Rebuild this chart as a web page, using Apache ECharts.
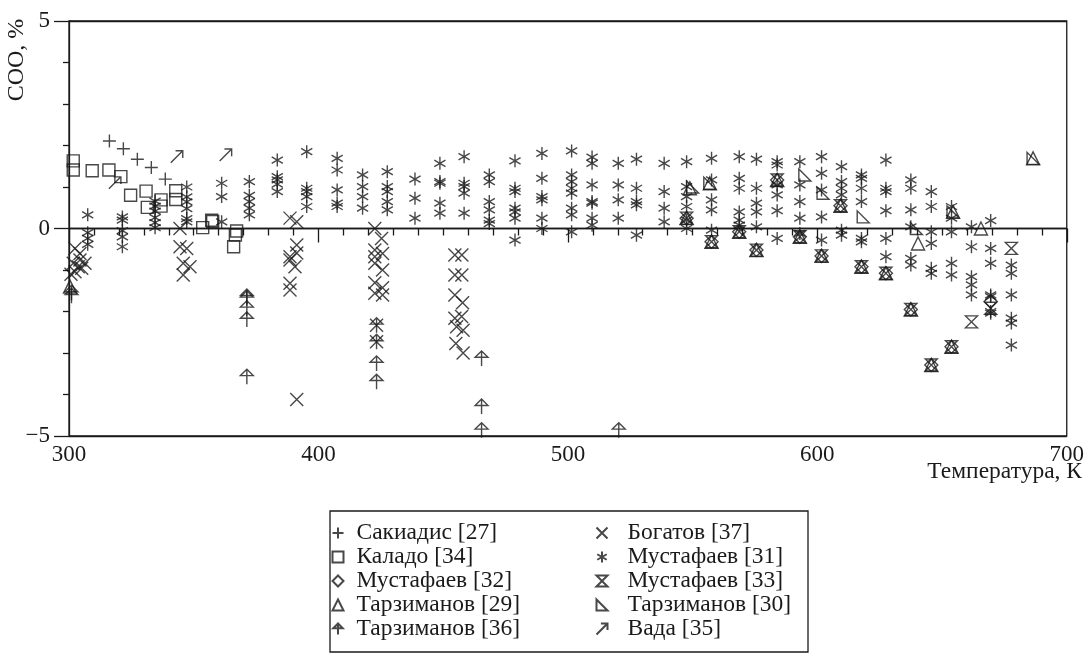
<!DOCTYPE html>
<html>
<head>
<meta charset="utf-8">
<script src="https://cdn.jsdelivr.net/npm/echarts@6/dist/echarts.min.js"></script>
<style>
  html, body { margin: 0; padding: 0; background: #fff; }
  #chart { width: 1087px; height: 663px; }
</style>
</head>
<body>
<div id="chart"></div>
<script>
// --- data (temperature K, deviation %) ---
const sakiadis = [[316.2, 2.11], [321.8, 1.92], [327.4, 1.67], [333, 1.47], [338.6, 1.19]]
const kalado = [
  [301.7, 1.63], [301.7, 1.41], [309.3, 1.39], [316, 1.41], [320.8, 1.25], [324.7, 0.8],
  [330.9, 0.9], [331.4, 0.51], [336.9, 0.69], [336.9, 0.54], [342.8, 0.91], [342.8, 0.7],
  [353.6, 0.02], [357.2, 0.2], [357.6, 0.17], [367.2, -0.06], [366.7, -0.16], [366, -0.44],
]
// points where [32], [33] and [29] coincide
const starPts = [
  [547.6, 0.25], [557.6, -0.32], [568.7, -0.08], [575.6, -0.52], [583.9, 1.17], [593, -0.2],
  [601.7, -0.66], [609.3, 0.55], [617.7, -0.92], [627.5, -1.08], [637.5, -1.95], [645.7, -3.29],
  [653.8, -2.85],
]
const must32 = starPts.concat([[669.5, -1.76]])
const must33 = starPts.concat([[661.8, -2.25], [669.5, -1.92], [677.8, -0.48]])
const tarz29 = starPts.concat([
  [300.4, -1.4], [548.9, 0.97], [556.9, 1.09], [640.4, -0.36], [654.4, 0.4], [665.6, 0.0], [686.5, 1.69],
])
const tarz30 = [
  [550, 1.0], [556.9, 1.09], [595, 1.29], [602.3, 0.85], [618.4, 0.28], [639.7, 0.0], [654.4, 0.4], [686.5, 1.69],
]
const tarz36 = [
  [301, -1.55], [301, -1.62], [371.3, -1.64], [371.3, -1.68], [371.3, -1.92], [371.3, -2.19], [371.3, -3.57],
  [423.3, -2.33], [423.3, -2.73], [423.3, -3.25], [423.3, -3.69], [465.4, -3.13], [465.4, -4.29],
  [465.4, -4.86], [520.4, -4.86],
]
const bogatov = [
  [302.4, -0.48], [304.4, -0.76], [301.7, -0.84], [303.7, -0.92], [305.1, -0.96], [302.4, -1.04],
  [304.4, -0.6], [306.4, -0.84], [300.8, -1.1],
  [344.5, 0], [344.5, -0.44], [347.2, -0.48], [345.8, -0.84], [348.5, -0.92], [345.8, -1.12],
  [388.6, 0.25], [391.3, 0.16], [391.3, -0.4], [391.3, -0.59], [388.6, -0.68], [388.6, -0.76],
  [390.6, -0.92], [388.6, -1.32], [388.6, -1.48], [391.3, -4.12],
  [422.6, 0], [425.3, -0.24], [422.6, -0.52], [425.7, -0.6], [422.6, -0.68], [422.6, -0.84],
  [425.7, -1.0], [422.6, -1.31], [425.7, -1.43], [422.6, -1.56], [425.7, -1.6], [423.3, -2.33], [423.3, -2.73],
  [454.7, -0.64], [457.5, -0.64], [454.7, -1.12], [457.5, -1.12], [454.7, -1.6], [457.8, -1.79],
  [454.7, -2.16], [457.4, -2.12], [455.4, -2.37], [458, -2.45], [455.1, -2.77], [458, -3.0],
]
// Мустафаев [31]: temperatures and the values read at each
const must31T = [
  307.5, 321.4, 334.5, 347.2, 361.2, 372.3, 383.5, 395.3, 407.5, 417.7, 427.6, 438.7, 448.7, 458.4,
  468.5, 478.8, 489.6, 501.5, 509.7, 520.2, 527.5, 538.6, 547.6, 557.6, 568.7, 575.6, 583.9, 593,
  601.7, 609.7, 617.7, 627.5, 637.5, 645.7, 653.8, 661.8, 669.5, 677.8,
]
const must31V = [
  [0.33, -0.1, -0.24, -0.38],
  [0.28, 0.2, -0.05, -0.2, -0.44],
  [0.66, 0.54, 0.42, 0.26, 0.14, 0.02],
  [1.0, 0.76, 0.64, 0.48, 0.24, 0.16],
  [1.09, 0.77, 0.16],
  [1.13, 0.8, 0.65, 0.49, 0.33],
  [1.65, 1.25, 1.17, 1.07, 0.89],
  [1.85, 0.97, 0.89, 0.77, 0.53],
  [1.69, 1.41, 0.93, 0.61, 0.53],
  [1.29, 1.01, 0.77, 0.49],
  [1.37, 1.01, 0.89, 0.65, 0.45],
  [1.19, 0.73, 0.25],
  [1.57, 1.13, 1.09, 0.61, 0.37],
  [1.73, 1.09, 1.01, 0.85, 0.37],
  [1.29, 1.13, 0.65, 0.45, 0.2, 0.12],
  [1.63, 0.97, 0.89, 0.49, 0.4, 0.25, -0.28],
  [1.81, 1.21, 0.77, 0.69, 0.25, 0.0],
  [1.87, 1.29, 1.13, 0.97, 0.85, 0.49, 0.33, -0.08],
  [1.72, 1.57, 1.05, 0.65, 0.61, 0.25, 0.08],
  [1.57, 1.05, 0.69, 0.25],
  [1.67, 0.97, 0.65, 0.57, -0.16],
  [1.57, 0.89, 0.49, 0.16],
  [1.61, 1.01, 0.77, 0.53, 0.2, 0.0],
  [1.69, 1.17, 0.69, 0.45, -0.04],
  [1.73, 1.21, 0.97, 0.4, 0.2, 0.08],
  [1.67, 0.97, 0.61, 0.4, 0.04],
  [1.61, 1.53, 1.05, 0.81, 0.43, -0.24],
  [1.61, 1.05, 0.65, 0.25, -0.12],
  [1.73, 1.33, 0.93, 0.28, -0.28],
  [1.49, 1.13, 0.97, 0.81, -0.04, -0.16],
  [1.29, 1.21, 0.97, 0.65, -0.24, -0.32],
  [1.65, 0.97, 0.89, 0.43, -0.24, -0.68],
  [1.17, 0.97, 0.45, 0.04, -0.72, -0.88],
  [0.89, 0.53, -0.08, -0.36, -0.96, -1.08],
  [0.53, 0.25, -0.08, -0.84, -1.12],
  [0.04, -0.44, -1.16, -1.36, -1.6],
  [0.19, -0.48, -0.84, -1.6, -1.64, -2.0, -2.04],
  [-0.88, -1.08, -1.6, -2.16, -2.28, -2.81],
]
const vada = [[318.4, 1.1], [343.2, 1.73], [362.8, 1.77]]

const must31 = []
must31T.forEach((t, i) => must31V[i].forEach((v) => must31.push([t, v])))

const FONT = '"Liberation Serif", "DejaVu Serif", serif'
const INK = '#1a1a1a'

const SYM = {
  plus: 'path://M5 0 L5 10 M0 5 L10 5',
  cross: 'path://M0 0 L10 10 M10 0 L0 10',
  star: 'path://M5 0 L5 10 M0.7 2.5 L9.3 7.5 M9.3 2.5 L0.7 7.5',
  hourglass: 'path://M0 0 L10 0 L0 10 L10 10 Z',
  rightTri: 'path://M0 0 L0 10 L10 10 Z',
  upArrow: 'path://M0 6 L6 0 L12 6 Z M6 0 L6 14',
  neArrow: 'path://M0 10 L10 0 M4 0 L10 0 L10 6',
}

function scatter(name, data, symbol, size) {
  return {
    name,
    type: 'scatter',
    data,
    symbol,
    symbolSize: size || 13,
    symbolKeepAspect: true,
    itemStyle: { color: 'none', borderColor: INK, borderWidth: 1.4 },
    emphasis: { disabled: true },
  }
}

const chart = echarts.init(document.getElementById('chart'))

const legendBase = {
  orient: 'vertical',
  top: 516,
  height: 130,
  itemWidth: 11,
  itemHeight: 11,
  itemGap: 0,
  selectedMode: false,
  textStyle: { fontFamily: FONT, fontSize: 23.5, color: INK },
}

chart.setOption({
  animation: false,
  grid: { left: 69, right: 20, top: 21, bottom: 227, show: true, borderColor: INK, borderWidth: 1.3 },
  xAxis: {
    type: 'value',
    min: 300,
    max: 700,
    interval: 100,
    axisLine: { lineStyle: { color: INK, width: 1.3 } },
    axisTick: { show: true, inside: false, length: 14, lineStyle: { color: INK, width: 1.3 } },
    minorTick: { show: true, splitNumber: 10, length: 7, lineStyle: { color: INK, width: 1.3 } },
    splitLine: { show: false },
    axisLabel: { margin: 7, fontFamily: FONT, fontSize: 23, color: INK },
  },
  yAxis: {
    type: 'value',
    min: -5,
    max: 5,
    interval: 5,
    axisLine: { lineStyle: { color: INK, width: 1.3 } },
    axisTick: { show: true, inside: false, length: 15, lineStyle: { color: INK, width: 1.3 } },
    minorTick: { show: true, splitNumber: 5, length: 6, lineStyle: { color: INK, width: 1.3 } },
    splitLine: { show: true, lineStyle: { color: INK, width: 1.3 } },
    axisLabel: {
      margin: 19,
      fontFamily: FONT,
      fontSize: 23,
      color: INK,
      formatter: (v) => (v < 0 ? '\u2212' + Math.abs(v) : String(v)),
    },
  },
  legend: [
    Object.assign({}, legendBase, {
      left: 325,
      data: ['Сакиадис [27]', 'Каладо [34]', 'Мустафаев [32]', 'Тарзиманов [29]', 'Тарзиманов [36]'],
      textStyle: Object.assign({}, legendBase.textStyle, { padding: [0, 0, 0, 8] }),
    }),
    Object.assign({}, legendBase, {
      left: 589,
      data: ['Богатов [37]', 'Мустафаев [31]', 'Мустафаев [33]', 'Тарзиманов [30]', 'Вада [35]'],
      textStyle: Object.assign({}, legendBase.textStyle, { padding: [0, 0, 0, 15] }),
    }),
  ],
  graphic: [
    {
      type: 'rect',
      shape: { x: 330, y: 511, width: 478, height: 141 },
      style: { fill: 'none', stroke: INK, lineWidth: 1.3 },
    },
    {
      type: 'text',
      x: 17,
      y: 60,
      rotation: Math.PI / 2,
      style: { text: 'СОО, %', font: '24px ' + FONT, fill: INK, align: 'center', verticalAlign: 'middle' },
    },
    {
      type: 'text',
      x: 1082,
      y: 472,
      style: { text: 'Температура, К', font: '23.5px ' + FONT, fill: INK, align: 'right', verticalAlign: 'middle' },
    },
  ],
  series: [
    scatter('Сакиадис [27]', sakiadis, SYM.plus),
    scatter('Каладо [34]', kalado, 'rect', 12),
    scatter('Мустафаев [32]', must32, 'diamond', 13),
    scatter('Тарзиманов [29]', tarz29, 'triangle', 13),
    scatter('Тарзиманов [36]', tarz36, SYM.upArrow, 15),
    scatter('Богатов [37]', bogatov, SYM.cross),
    scatter('Мустафаев [31]', must31, SYM.star),
    scatter('Мустафаев [33]', must33, SYM.hourglass, 12),
    scatter('Тарзиманов [30]', tarz30, SYM.rightTri, 12),
    scatter('Вада [35]', vada, SYM.neArrow, 12),
  ],
})
</script>
</body>
</html>
